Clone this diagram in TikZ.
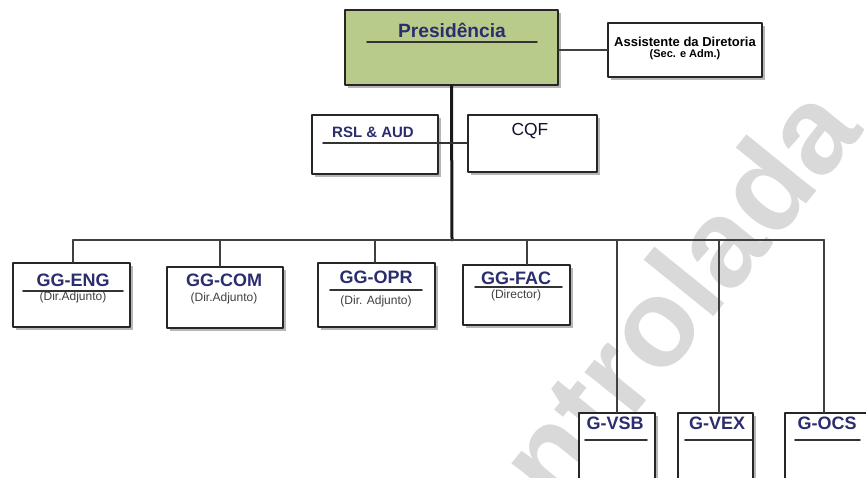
\documentclass[tikz,border=0pt]{standalone}
\usepackage{fontspec}
\setmainfont{Liberation Sans}
\usetikzlibrary{shadows}
\definecolor{verdepres}{HTML}{B8CB8A}
\definecolor{azultit}{HTML}{2B2D6E}
\tikzset{
	caixa/.style={draw=black!85, line width=1pt, fill=white, inner sep=0pt,
		drop shadow={shadow xshift=1.3pt, shadow yshift=-1.3pt, fill=black!40, opacity=.7}},
	titulo/.style={text=azultit, font=\bfseries\fontsize{9}{10}\selectfont, inner sep=0pt},
	subtit/.style={text=black!75, font=\fontsize{6}{7}\selectfont, inner sep=0pt},
	sublinha/.style={line width=.8pt, black!80},
	ligacao/.style={line width=1pt, black!75},
	marca/.style={text=black!15, font=\bfseries\fontsize{62}{62}\selectfont, inner sep=0pt}
}
\begin{document}
\begin{tikzpicture}[x=.5pt, y=-.5pt, line join=round, line cap=round]
	%Área do desenho
	\useasboundingbox (0,0) rectangle (866,477);
	%Marca d'água
	\node[marca, rotate=51, anchor=base west] (agua) at (453,640) {Controlada};
	%Presidência e assistente
	\node[caixa, fill=verdepres, minimum width=106.5pt, minimum height=37.5pt] (pres) at (451.5,47.5) {};
	\node[titulo, font=\bfseries\fontsize{9.6}{10}\selectfont] (t-pres) at (452,30) {Presidência};
	\draw[sublinha] (367,42) -- (537,42);
	\node[caixa, minimum width=77pt, minimum height=27pt] (assist) at (685,50) {};
	\node[align=center, inner sep=0pt, font=\bfseries\fontsize{6.5}{5.5}\selectfont] (t-assist) at (685,48)
		{Assistente da Diretoria\\{\fontsize{5.5}{5.5}\selectfont (Sec. e Adm.)}};
	\draw[ligacao] (pres.east |- assist.west) -- (assist.west);
	%Staff
	\node[caixa, minimum width=63pt, minimum height=29.5pt] (rsl) at (375,144.5) {};
	\node[titulo, font=\bfseries\fontsize{7.5}{8}\selectfont] (t-rsl) at (373,132) {RSL \& AUD};
	\node[caixa, minimum width=64.5pt, minimum height=28.5pt] (cqf) at (532.5,143.5) {};
	\node[titulo, text=black!60!azultit, font=\fontsize{8.7}{9}\selectfont] (t-cqf) at (530,131) {CQF};
	\coordinate (barra) at (452,240);
	\draw[ligacao, line width=1.5pt, black!90] (pres.south) -- (barra);
	\draw[sublinha] (323,143) -- (cqf.west |- 0,143);
	%Gerências
	\foreach \nome/\cx/\cy/\w/\h/\dx/\tx/\ty/\tit in {
		eng/71.5/295/58.5/32/73/73/280/GG-ENG,
		com/225/297.5/58/30.5/220/224/280/GG-COM,
		opr/376.5/295/58.5/32/375/376/277/GG-OPR,
		fac/516.5/295/53.5/30/527/516/278/GG-FAC,
		vsb/617/451.5/38/38.5/617/615/423/G-VSB,
		vex/715.5/451.5/37.5/38.5/719/717/423/G-VEX,
		ocs/827.5/451.5/42.5/38.5/824/827/423/G-OCS}
	{
		\node[caixa, minimum width=\w pt, minimum height=\h pt] (\nome) at (\cx,\cy) {};
		\node[titulo] (t-\nome) at (\tx,\ty) {\tit};
		\coordinate (b-\nome) at (\dx,240);
		\draw[ligacao] (b-\nome) -- (b-\nome |- \nome.north);
	}
	\draw[ligacao] (b-eng) -- (b-ocs);
	%Linhas sob os títulos
	\foreach \xa/\xb/\y in {23/123/291, 330/422/290, 475/562/287, 585/647/440, 685/752/440, 795/860/440}
	\draw[sublinha] (\xa,\y) -- (\xb,\y);
	%Cargos
	\foreach \nome/\x/\y/\txt in {eng/73/297/(Dir.Adjunto), com/224/298/(Dir.Adjunto), opr/376/301/(Dir. Adjunto), fac/516/295/(Director)}
	\node[subtit] (s-\nome) at (\x,\y) {\txt};
\end{tikzpicture}
\end{document}
